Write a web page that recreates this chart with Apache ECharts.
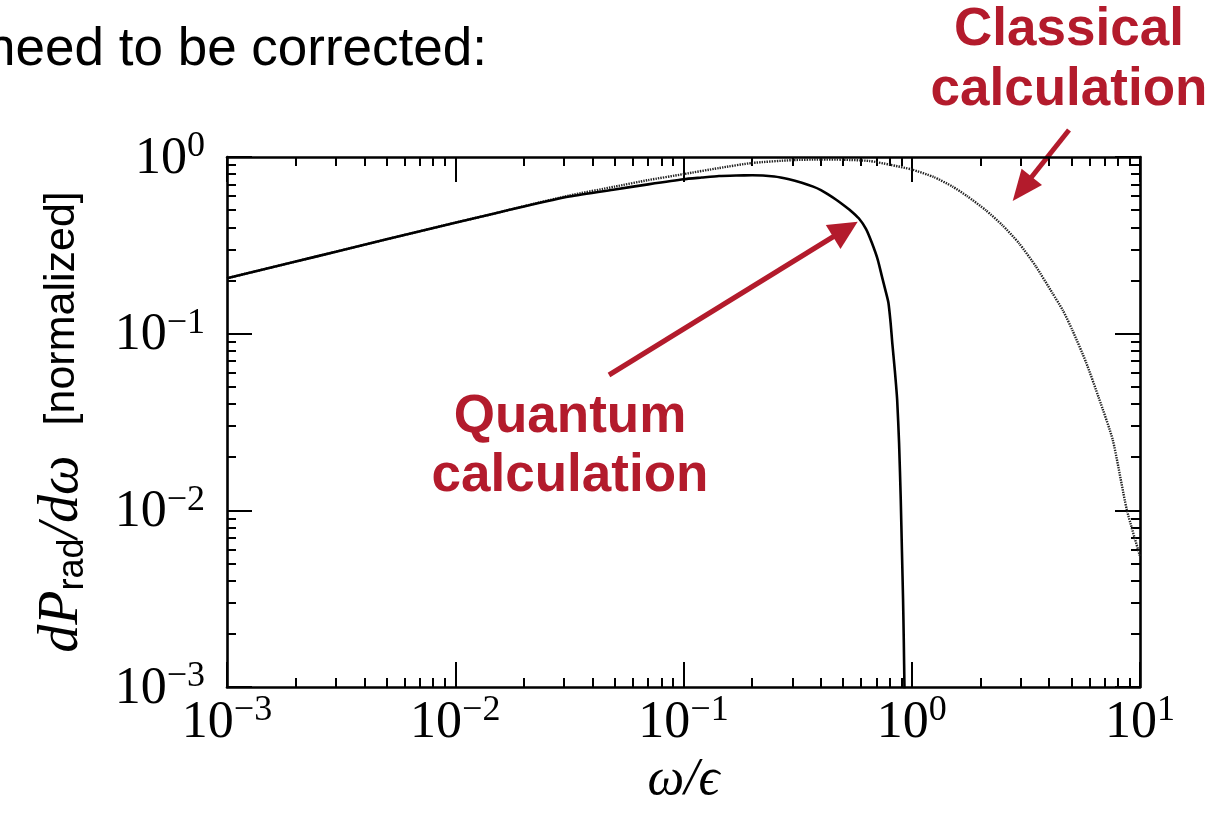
<!DOCTYPE html>
<html>
<head>
<meta charset="utf-8">
<script src="https://cdn.jsdelivr.net/npm/echarts@6/dist/echarts.min.js"></script>
<style>
  html, body { margin: 0; padding: 0; background: #ffffff; }
  #chart { width: 1231px; height: 817px; }
</style>
</head>
<body>
<div id="chart"></div>
<script>
// Quantum spectrum (solid curve): photon energy fraction and normalized power
const omegaQuantum = [0.001, 0.002, 0.003, 0.005, 0.007, 0.01, 0.015, 0.02, 0.0316, 0.05, 0.07, 0.1, 0.12, 0.143, 0.17, 0.2, 0.25, 0.29, 0.33, 0.37, 0.4, 0.43, 0.465, 0.5, 0.54, 0.586, 0.63, 0.668, 0.71, 0.74, 0.765, 0.79, 0.808, 0.822, 0.843, 0.863, 0.88, 0.895, 0.906, 0.916, 0.923, 0.929, 0.935];
const powerQuantum = [0.206, 0.256, 0.291, 0.342, 0.38, 0.425, 0.48, 0.525, 0.597, 0.655, 0.70, 0.748, 0.765, 0.781, 0.786, 0.788, 0.775, 0.748, 0.715, 0.68, 0.65, 0.615, 0.575, 0.537, 0.497, 0.45, 0.392, 0.328, 0.262, 0.211, 0.178, 0.15, 0.115, 0.088, 0.062, 0.0424, 0.024, 0.0115, 0.0058, 0.00314, 0.0018, 0.001, 0.0006];

// Classical spectrum (dotted curve)
const omegaClassical = [0.001, 0.002, 0.003, 0.005, 0.007, 0.01, 0.015, 0.02, 0.0316, 0.05, 0.07, 0.1, 0.143, 0.2, 0.3, 0.4, 0.5, 0.65, 0.8, 1.0, 1.25, 1.51, 1.75, 2.11, 2.5, 2.95, 3.5, 4.13, 4.6, 5.05, 5.8, 6.6, 7.6, 8.75, 10];
const powerClassical = [0.206, 0.256, 0.291, 0.342, 0.38, 0.425, 0.48, 0.527, 0.605, 0.68, 0.74, 0.80, 0.866, 0.925, 0.96, 0.968, 0.965, 0.95, 0.905, 0.85, 0.77, 0.68, 0.60, 0.50, 0.41, 0.325, 0.24, 0.17, 0.135, 0.105, 0.069, 0.0433, 0.025, 0.0101, 0.0055];

// Axis ticks
const xMajorTicks = [0.001, 0.01, 0.1, 1, 10];
const yMajorTicks = [0.001, 0.01, 0.1, 1];
const minorMultipliers = [2, 3, 4, 5, 6, 7, 8, 9];

function minorTicksBetween(lo, hi) {
  const out = [];
  for (let d = lo; d < hi * 0.999; d *= 10) {
    minorMultipliers.forEach(m => out.push(+(m * d).toPrecision(3)));
  }
  return out;
}
const xMinorTicks = minorTicksBetween(0.001, 10);
const yMinorTicks = minorTicksBetween(0.001, 1);

const RED = '#B31B2C';
const SERIF = '"Liberation Serif", "DejaVu Serif", serif';
const SANS = '"Liberation Sans", Arial, sans-serif';

function powerLabel(v) {
  const e = Math.round(Math.log10(v));
  const exp = e < 0 ? '\u2212' + (-e) : String(e);
  return '{b|10}{s|' + exp + '}';
}
const labelRich = {
  b: { fontFamily: SERIF, fontSize: 52, color: '#000', lineHeight: 56, verticalAlign: 'bottom' },
  s: { fontFamily: SERIF, fontSize: 36, color: '#000', lineHeight: 22, verticalAlign: 'top' }
};

const axisLineStyle = { color: '#000', width: 2.6 };
const tickStyle = { color: '#000', width: 2 };

function logAxis(dim, position, major, opts) {
  const isX = dim === 'x';
  const base = {
    type: 'log',
    logBase: 10,
    min: 0.001,
    max: isX ? 10 : 1,
    position: position,
    splitLine: { show: false },
    axisLine: { show: major, onZero: false, lineStyle: axisLineStyle },
    axisTick: {
      show: true,
      inside: true,
      length: major ? 25 : 9,
      lineStyle: tickStyle,
      customValues: major ? (isX ? xMajorTicks : yMajorTicks) : (isX ? xMinorTicks : yMinorTicks)
    },
    axisLabel: { show: false }
  };
  return Object.assign(base, opts || {});
}

const xSeriesAxis = logAxis('x', 'bottom', true, {
  axisLabel: {
    show: true,
    customValues: xMajorTicks,
    formatter: powerLabel,
    rich: labelRich,
    margin: 6
  },
  name: '{n|\u03c9/\u03f5}',
  nameLocation: 'middle',
  nameGap: 60,
  nameTextStyle: { rich: { n: { fontFamily: SERIF, fontStyle: 'italic', fontSize: 52, color: '#000' } } }
});

const ySeriesAxis = logAxis('y', 'left', true, {
  axisLabel: {
    show: true,
    customValues: yMajorTicks,
    formatter: powerLabel,
    rich: labelRich,
    margin: 22
  },
  name: '{i|dP}{sub|rad}{i|/d\u03c9}{sp| }{n|[normalized]}',
  nameLocation: 'middle',
  nameRotate: 90,
  nameGap: 136,
  nameTextStyle: {
    rich: {
      i: { fontFamily: SERIF, fontStyle: 'italic', fontSize: 56, color: '#000', lineHeight: 58 },
      sub: { fontFamily: SANS, fontSize: 36, color: '#000', lineHeight: 26, verticalAlign: 'bottom' },
      sp: { fontSize: 30, width: 30 },
      n: { fontFamily: SANS, fontSize: 43, color: '#000', lineHeight: 58 }
    }
  }
});

const option = {
  backgroundColor: '#ffffff',
  animation: false,
  grid: { left: 227, right: 91, top: 157, bottom: 130, containLabel: false },
  xAxis: [
    xSeriesAxis,
    logAxis('x', 'bottom', false),
    logAxis('x', 'top', true),
    logAxis('x', 'top', false)
  ],
  yAxis: [
    ySeriesAxis,
    logAxis('y', 'left', false),
    logAxis('y', 'right', true),
    logAxis('y', 'right', false)
  ],
  series: [
    {
      name: 'Classical',
      type: 'line',
      xAxisIndex: 0,
      yAxisIndex: 0,
      showSymbol: false,
      smooth: 0.2,
      clip: true,
      z: 2,
      lineStyle: { color: '#222', width: 2.4, type: [1.4, 1.1] },
      data: omegaClassical.map((w, i) => [w, powerClassical[i]])
    },
    {
      name: 'Quantum',
      type: 'line',
      xAxisIndex: 0,
      yAxisIndex: 0,
      showSymbol: false,
      smooth: 0.2,
      clip: true,
      z: 3,
      lineStyle: { color: '#000', width: 2.6, join: 'round' },
      data: omegaQuantum.map((w, i) => [w, powerQuantum[i]])
    }
  ],
  graphic: [
    // slide caption fragment, top left
    { type: 'text', style: { text: 'need to be corrected:', x: 487, y: 50, align: 'right', verticalAlign: 'middle', font: '53px ' + SANS, fill: '#000' } },
    // classical annotation
    { type: 'text', style: { text: 'Classical', x: 1069, y: 30, align: 'center', verticalAlign: 'middle', font: 'bold 53px ' + SANS, fill: RED } },
    { type: 'text', style: { text: 'calculation', x: 1069, y: 90, align: 'center', verticalAlign: 'middle', font: 'bold 53px ' + SANS, fill: RED } },
    { type: 'line', shape: { x1: 1069, y1: 130, x2: 1030, y2: 179 }, style: { stroke: RED, lineWidth: 5 } },
    { type: 'polygon', shape: { points: [[1012.7, 201], [1021.6, 168.7], [1042, 184.9]] }, style: { fill: RED } },
    // quantum annotation
    { type: 'text', style: { text: 'Quantum', x: 570, y: 417, align: 'center', verticalAlign: 'middle', font: 'bold 53px ' + SANS, fill: RED } },
    { type: 'text', style: { text: 'calculation', x: 570, y: 476, align: 'center', verticalAlign: 'middle', font: 'bold 53px ' + SANS, fill: RED } },
    { type: 'line', shape: { x1: 609, y1: 375, x2: 836, y2: 235 }, style: { stroke: RED, lineWidth: 5 } },
    { type: 'polygon', shape: { points: [[857.7, 221.7], [825.8, 225.1], [840.5, 249.0]] }, style: { fill: RED } }
  ]
};

const chart = echarts.init(document.getElementById('chart'), null, { renderer: 'canvas' });
chart.setOption(option);
</script>
</body>
</html>
